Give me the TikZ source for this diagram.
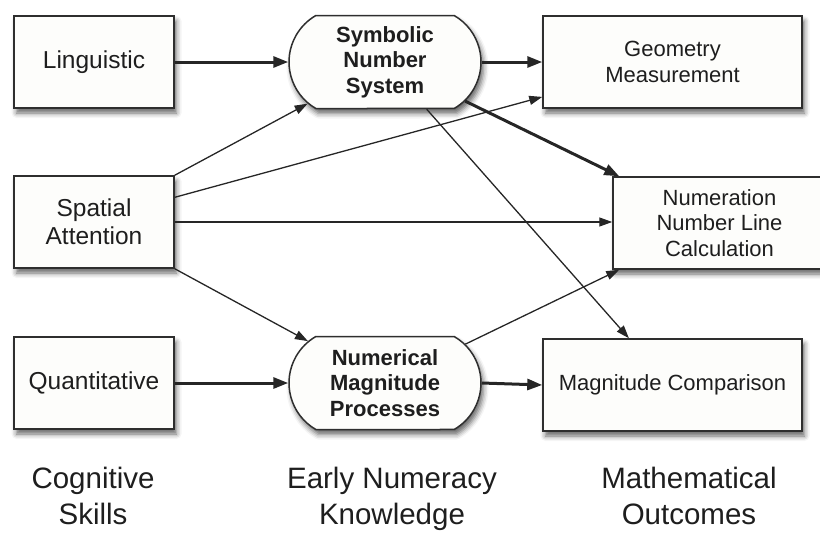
\documentclass[tikz,border=0pt]{standalone}
\usepackage{fontspec}
\setmainfont{Liberation Sans}
\usetikzlibrary{positioning,calc,arrows.meta,shapes.misc,shadows.blur}
\definecolor{boxline}{HTML}{2E2E2E}
\definecolor{boxfill}{HTML}{FDFDFB}
\definecolor{inktext}{HTML}{1E1E1E}
\tikzset{
  basebox/.style={draw=boxline, fill=boxfill, line width=1.5pt, align=center, inner sep=2pt,
    text=inktext,
    blur shadow={shadow xshift=2.5pt, shadow yshift=-5pt, shadow blur radius=5pt, shadow opacity=60}},
  skillbox/.style={basebox, rectangle, minimum width=160pt, minimum height=92pt,
    font=\fontsize{24.5}{28}\selectfont},
  knowbox/.style={basebox, rounded rectangle, rounded rectangle arc length=120,
    minimum width=196pt, minimum height=93pt, font=\fontsize{22}{25.5}\selectfont\bfseries},
  outbox/.style={basebox, rectangle, minimum height=92pt, font=\fontsize{22}{25.5}\selectfont},
  collab/.style={align=center, anchor=north, inner sep=0pt, text=inktext,
    font=\fontsize{29.5}{36}\selectfont},
  bigflow/.style={-{Triangle[length=15pt, width=11pt]}, line width=3pt, draw=black!85},
  thinflow/.style={-{Triangle[length=13pt, width=9pt]}, line width=1.3pt, draw=black!85},
}

\begin{document}
\begin{tikzpicture}[x=1pt, y=-1pt]
\useasboundingbox (0,0) rectangle (820,533);
% cognitive skills
\node[skillbox] (ling) at (94,62) {Linguistic};
\node[skillbox] (spat) at (94,222) {Spatial\\Attention};
\node[skillbox] (quant) at (94,383) {Quantitative};
% early numeracy knowledge
\node[knowbox] (symb) at (385,62) {Symbolic\\Number\\System};
\node[knowbox] (nmag) at (385,383) {Numerical\\Magnitude\\Processes};
% mathematical outcomes
\node[outbox, minimum width=259pt] (geom) at (672.5,62) {Geometry\\Measurement};
\node[outbox, minimum width=213pt] (numr) at (719.5,223) {Numeration\\Number Line\\Calculation};
\node[outbox, minimum width=259pt] (magc) at (672.5,385) {Magnitude Comparison};
% column labels
\node[collab] (cogl) at (93,467) {Cognitive\\Skills};
\node[collab] (earl) at (392,467) {Early Numeracy\\Knowledge};
\node[collab] (matl) at (689,467) {Mathematical\\Outcomes};
% main flows
\draw[bigflow] (ling.east) -- (symb.west);
\draw[bigflow] (quant.east) -- (nmag.west);
\draw[bigflow] (symb.east) -- (geom.west);
\draw[bigflow] (nmag.east) -- (magc.west);
\draw[bigflow] (symb) -- ($(numr.north west)+(7,0)$);
% thin flows
\draw[thinflow] (spat.north east) -- (symb);
\draw[thinflow] (spat.17) -- (geom.195);
\draw[thinflow] (spat.east) -- (spat.east -| numr.west);
\draw[thinflow] (spat.south east) -- (nmag);
\draw[thinflow] (symb) -- (magc.133);
\draw[thinflow] (nmag) -- (numr.205);
\end{tikzpicture}
\end{document}
